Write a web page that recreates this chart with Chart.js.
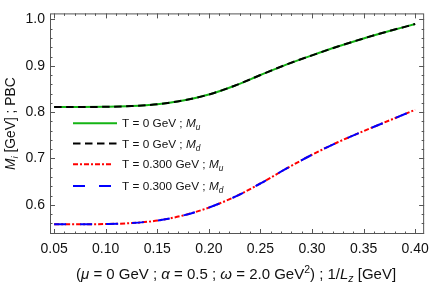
<!DOCTYPE html>
<html>
<head>
<meta charset="utf-8">
<script src="https://cdn.jsdelivr.net/npm/chart.js@4.4.1/dist/chart.umd.min.js"></script>
<style>
  html, body { margin: 0; padding: 0; background: #fff; }
  #wrap { width: 436px; height: 283px; position: relative; }
</style>
</head>
<body>
<div id="wrap"><canvas id="c" width="436" height="283"></canvas></div>
<script>
// ---- data ----
const xValues = [0.050, 0.075, 0.100, 0.125, 0.150, 0.175, 0.200, 0.225, 0.250, 0.275, 0.300, 0.325, 0.350, 0.375, 0.400];
const massT0u   = [0.811, 0.811, 0.8115, 0.813, 0.817, 0.825, 0.838, 0.857, 0.880, 0.9025, 0.9225, 0.9415, 0.959, 0.975, 0.990];
const massT0d   = [0.811, 0.811, 0.8115, 0.813, 0.817, 0.825, 0.838, 0.857, 0.880, 0.9025, 0.9225, 0.9415, 0.959, 0.975, 0.990];
const massT300u = [0.558, 0.558, 0.5585, 0.5605, 0.566, 0.577, 0.594, 0.617, 0.646, 0.678, 0.708, 0.735, 0.759, 0.782, 0.805];
const massT300d = [0.558, 0.558, 0.5585, 0.5605, 0.566, 0.577, 0.594, 0.617, 0.646, 0.678, 0.708, 0.735, 0.759, 0.782, 0.805];
const seriesNames = ['T = 0 GeV ; M_u', 'T = 0 GeV ; M_d', 'T = 0.300 GeV ; M_u', 'T = 0.300 GeV ; M_d'];
const xTitle = '(*μ* = 0 GeV ; *α* = 0.5 ; *ω* = 2.0 GeV^2) ; 1/*L*_z [GeV]';
const yTitle = '*M*_i [GeV] ; PBC';
const xRange = [0.046, 0.4087];
const yRange = [0.537, 1.013];

const FONT = '"Liberation Sans", Arial, Helvetica, sans-serif';

function pts(ys) { return xValues.map((x, i) => ({ x: x, y: ys[i] })); }

// parse simple markup: *italic*, _x subscript (one char, italic), ^x superscript (one char)
function parseRich(str) {
  const segs = [];
  let italic = false, buf = '';
  const flush = () => { if (buf) { segs.push({ t: buf, i: italic, s: null }); buf = ''; } };
  for (let k = 0; k < str.length; k++) {
    const ch = str[k];
    if (ch === '*') { flush(); italic = !italic; }
    else if (ch === '_') { flush(); segs.push({ t: str[k + 1], i: true, s: 'sub' }); k++; }
    else if (ch === '^') { flush(); segs.push({ t: str[k + 1], i: false, s: 'sup' }); k++; }
    else buf += ch;
  }
  flush();
  return segs;
}
function legendMarkup(name) { return name.replace(/M_(\w)/, '*M*_$1'); }

function segFont(seg, size) {
  const sz = seg.s ? size * 0.7 : size;
  return (seg.i ? 'italic ' : '') + sz + 'px ' + FONT;
}
function richWidth(ctx, segs, size) {
  let w = 0;
  segs.forEach(s => { ctx.font = segFont(s, size); w += ctx.measureText(s.t).width; });
  return w;
}
function drawRich(ctx, segs, x, y, size, align, color) {
  ctx.save();
  ctx.fillStyle = color;
  ctx.textBaseline = 'alphabetic';
  ctx.textAlign = 'left';
  let cx = x;
  const w = richWidth(ctx, segs, size);
  if (align === 'center') cx = x - w / 2;
  segs.forEach(s => {
    ctx.font = segFont(s, size);
    let dy = 0;
    if (s.s === 'sub') dy = size * 0.25;
    if (s.s === 'sup') dy = -size * 0.4;
    ctx.fillText(s.t, cx, y + dy);
    cx += ctx.measureText(s.t).width;
  });
  ctx.restore();
}

const framePlugin = {
  id: 'frame',
  afterDatasetsDraw(chart) {
    const ctx = chart.ctx, a = chart.chartArea;
    const xs = chart.scales.x, ys = chart.scales.y;
    ctx.save();
    ctx.strokeStyle = '#555';
    ctx.lineWidth = 1;
    ctx.strokeRect(a.left + 0.5, a.top + 0.5, a.right - a.left - 1, a.bottom - a.top - 1);
    ctx.beginPath();
    for (let k = Math.ceil(xs.min / 0.01 - 1e-6); k * 0.01 <= xs.max + 1e-9; k++) {
      const major = k % 5 === 0;
      const len = major ? 5 : 2.5;
      const px = Math.round(xs.getPixelForValue(k * 0.01)) + 0.5;
      ctx.moveTo(px, a.bottom); ctx.lineTo(px, a.bottom - len);
      ctx.moveTo(px, a.top); ctx.lineTo(px, a.top + len);
    }
    for (let k = Math.ceil(ys.min / 0.02 - 1e-6); k * 0.02 <= ys.max + 1e-9; k++) {
      const major = k % 5 === 0;
      const len = major ? 5 : 2.5;
      const py = Math.round(ys.getPixelForValue(k * 0.02)) + 0.5;
      ctx.moveTo(a.left, py); ctx.lineTo(a.left + len, py);
      ctx.moveTo(a.right, py); ctx.lineTo(a.right - len, py);
    }
    ctx.stroke();
    ctx.restore();
  },
  afterDraw(chart) {
    const ctx = chart.ctx, a = chart.chartArea;
    drawRich(ctx, parseRich(xTitle), (a.left + a.right) / 2 - 1, 278.5, 15, 'center', '#111');
    ctx.save();
    ctx.translate(15, (a.top + a.bottom) / 2);
    ctx.rotate(-Math.PI / 2);
    drawRich(ctx, parseRich(yTitle), 0, 0, 13.8, 'center', '#111');
    ctx.restore();
    const rows = [123.3, 143.6, 164.3, 186];
    chart.data.datasets.forEach((ds, i) => {
      const y = rows[i];
      ctx.save();
      ctx.strokeStyle = ds.borderColor;
      ctx.lineWidth = ds.borderWidth;
      ctx.setLineDash(ds.borderDash || []);
      ctx.beginPath();
      ctx.moveTo(73, y); ctx.lineTo(ds.legendEnd, y);
      ctx.stroke();
      ctx.restore();
      drawRich(ctx, parseRich(legendMarkup(ds.label)), 122, y + 4, 11.8, 'left', '#111');
    });
  }
};

new Chart(document.getElementById('c'), {
  type: 'line',
  data: {
    datasets: [
      { label: seriesNames[0], data: pts(massT0u), borderColor: 'rgb(20,180,20)', borderWidth: 2, order: 4, legendEnd: 117 },
      { label: seriesNames[1], data: pts(massT0d), borderColor: '#000', borderWidth: 2, borderDash: [7.5, 4.5], order: 3, legendEnd: 117 },
      { label: seriesNames[2], data: pts(massT300u), borderColor: 'rgb(255,0,0)', borderWidth: 2, borderDash: [5, 2, 2, 2], order: 2, legendEnd: 113 },
      { label: seriesNames[3], data: pts(massT300d), borderColor: 'rgb(0,0,255)', borderWidth: 2, borderDash: [12, 14], order: 1, legendEnd: 111 }
    ]
  },
  options: {
    responsive: false,
    animation: false,
    events: [],
    layout: { padding: { top: 2, right: 9, left: 0, bottom: 0 } },
    elements: { point: { radius: 0 }, line: { cubicInterpolationMode: 'monotone', fill: false } },
    plugins: { legend: { display: false }, tooltip: { enabled: false }, title: { display: false } },
    scales: {
      x: {
        type: 'linear', min: xRange[0], max: xRange[1],
        grid: { display: false, drawTicks: false }, border: { display: false },
        ticks: { stepSize: 0.05, includeBounds: false, padding: 7, color: '#111', maxRotation: 0, autoSkip: false,
                 font: { family: FONT, size: 14 }, callback: v => v.toFixed(2) },
        afterFit: s => { s.height = 49; }
      },
      y: {
        type: 'linear', min: yRange[0], max: yRange[1],
        grid: { display: false, drawTicks: false }, border: { display: false },
        ticks: { stepSize: 0.1, includeBounds: false, padding: 5, color: '#111', autoSkip: false,
                 font: { family: FONT, size: 14 }, callback: v => v.toFixed(1) },
        afterFit: s => { s.width = 50; }
      }
    }
  },
  plugins: [framePlugin]
});
</script>
</body>
</html>
